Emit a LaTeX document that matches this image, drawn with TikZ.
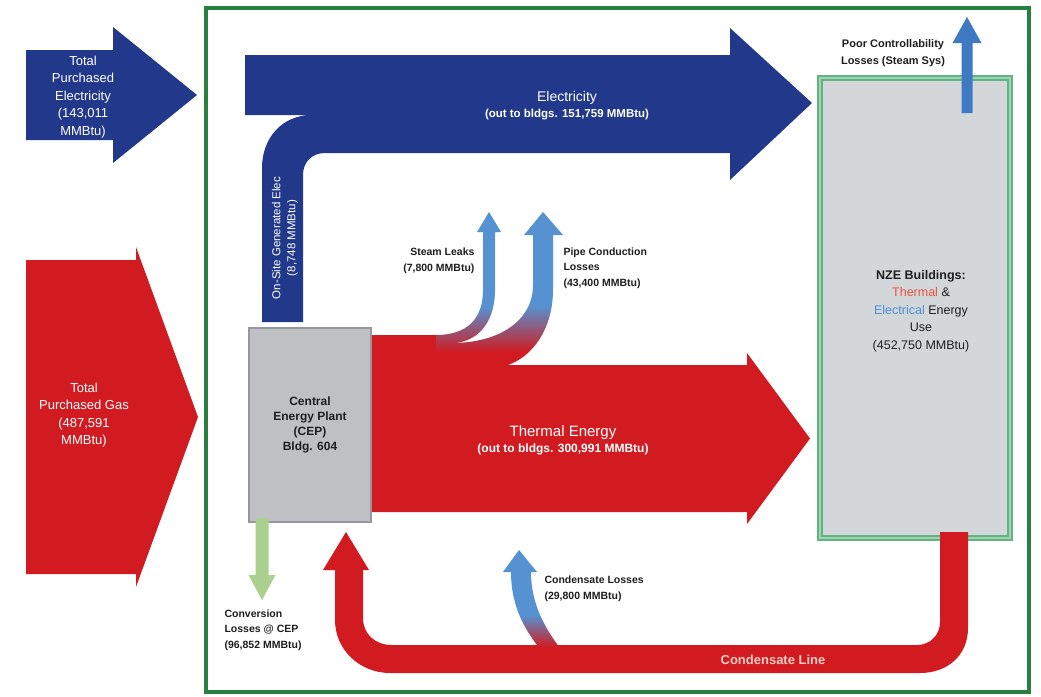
\documentclass[tikz,border=0pt]{standalone}
\usepackage{fontspec}
\setmainfont{Liberation Sans}
\usetikzlibrary{positioning}
\definecolor{elecblue}{RGB}{34, 56, 138}
\definecolor{thermred}{RGB}{209, 27, 32}
\definecolor{leakblue}{RGB}{86, 146, 210}
\definecolor{poorblue}{RGB}{62, 122, 196}
\definecolor{convgreen}{RGB}{170, 207, 143}
\definecolor{framegreen}{RGB}{40, 128, 62}
\definecolor{nzegreen}{RGB}{96, 180, 128}
\definecolor{nzefill}{RGB}{212, 215, 218}
\definecolor{cepfill}{RGB}{190, 192, 195}
\definecolor{cepdraw}{RGB}{150, 152, 155}
\definecolor{darktext}{RGB}{30, 30, 30}
\definecolor{condtext}{RGB}{250, 206, 196}
\definecolor{nzered}{RGB}{232, 84, 62}
\definecolor{nzeblue}{RGB}{74, 144, 214}
\pgfdeclareverticalshading{leakshade}{100bp}{color(0bp)=(thermred); color(25bp)=(thermred); color(30bp)=(thermred); color(45bp)=(leakblue); color(100bp)=(leakblue)}
\tikzset{
  flowlbl/.style={
    text=white, align=center,
    font=\fontsize{13}{17.5}\selectfont
  },
  losslbl/.style={
    text=darktext, align=left,
    font=\bfseries\fontsize{10.5}{15.5}\selectfont
  },
  boxlbl/.style={
    text=darktext, align=center,
    font=\fontsize{12.5}{17.5}\selectfont
  }
}
% fat horizontal arrow: x0, y centre, x head, x tip, body half, head half, colour
\newcommand{\drawfatarrow}[7]{
  \fill[#7] (#1,#2-#5) -- (#3,#2-#5) -- (#3,#2-#6) -- (#4,#2) -- (#3,#2+#6) -- (#3,#2+#5) -- (#1,#2+#5) -- cycle;
}
% straight vertical arrow: x, y tail, y head base, y tip, shaft half, head half, colour
\newcommand{\drawvarrow}[7]{
  \fill[#7] (#1-#5,#2) -- (#1-#5,#3) -- (#1-#6,#3) -- (#1,#4) -- (#1+#6,#3) -- (#1+#5,#3) -- (#1+#5,#2) -- cycle;
}

\begin{document}
\begin{tikzpicture}[x=1pt, y=-1pt]
\useasboundingbox (0,0) rectangle (1041,696);

% Outer frame
\draw[framegreen, line width=4pt] (205.5,8) rectangle (1029,692);

% Purchased inputs
\drawfatarrow{26}{95}{113}{197}{45}{68}{elecblue}
\drawfatarrow{26}{417}{136}{198}{157}{170}{thermred}
\node[flowlbl] (elec_in) at (83,97) {Total\\Purchased\\Electricity\\(143,011\\MMBtu)};
\node[flowlbl] (gas_in) at (84,415) {Total\\Purchased Gas\\(487,591\\MMBtu)};

% Electricity out to bldgs, with on-site stem
\fill[elecblue] (262,322) -- (262,168) .. controls (262,138) and (282,115) .. (312,115) -- (245,115) -- (245,55)
  -- (730,55) -- (730,28) -- (812,103) -- (730,180) -- (730,153) -- (325,153)
  .. controls (312,153) and (303,162) .. (303,175) -- (303,322) -- cycle;
\node[flowlbl, font=\fontsize{14}{17}\selectfont] (elec_out) at (567,106)
  {Electricity\\[-1pt]{\bfseries\fontsize{11.5}{14}\selectfont (out to bldgs. 151,759 MMBtu)}};
\node[flowlbl, rotate=90, font=\fontsize{11.5}{15}\selectfont] (onsite) at (285,238) {On-Site Generated Elec\\(8,748 MMBtu)};

% Thermal energy out to bldgs
\drawfatarrow{372}{438.5}{747}{810}{73.5}{85.5}{thermred}
\fill[thermred] (372,335) rectangle (446,367);
\node[flowlbl, font=\fontsize{15}{17}\selectfont] (therm_out) at (563,440)
  {Thermal Energy\\[-1pt]{\bfseries\fontsize{12}{14}\selectfont (out to bldgs. 300,991 MMBtu)}};

% Steam leaks and pipe conduction
\shade[shading=leakshade] (436,335) .. controls (468,335) and (483,318) .. (483,290) -- (483,232) -- (477,232) -- (489,212)
  -- (501,232) -- (495,232) -- (495,290) .. controls (495,325) and (475,343) .. (452,343)
  .. controls (500,343) and (533,320) .. (533,285) -- (533,235) -- (524,235) -- (543,212) -- (563,235) -- (553,235)
  -- (553,290) .. controls (553,335) and (525,368) .. (490,368) -- (436,368) -- cycle;
\node[losslbl, anchor=east, align=right] (steam) at (478,261) {Steam Leaks\\(7,800 MMBtu)};
\node[losslbl, anchor=west] (pipe) at (560,268) {Pipe Conduction\\Losses\\(43,400 MMBtu)};

% Central Energy Plant
\node[draw=cepdraw, line width=2pt, fill=cepfill, minimum width=122pt, minimum height=194pt] (cep) at (310,425) {};
\node[boxlbl, font=\bfseries\fontsize{12}{15}\selectfont] (cep_lbl) at (cep.center) {Central\\Energy Plant\\(CEP)\\Bldg. 604};

% NZE buildings
\node[draw=nzegreen, line width=2.2pt, double=nzegreen!60, double distance=1.2pt, fill=nzefill,
  minimum width=190pt, minimum height=460pt] (nze) at (915,308) {};
\node[boxlbl] (nze_lbl) at (921,311) {\textbf{NZE Buildings:}\\\textcolor{nzered}{Thermal} \&\\\textcolor{nzeblue}{Electrical} Energy\\Use\\(452,750 MMBtu)};

% Poor controllability
\drawvarrow{967}{113}{43}{17}{5.5}{14.5}{poorblue}
\node[losslbl, align=center, font=\bfseries\fontsize{11}{17}\selectfont] (poor) at (893,53) {Poor Controllability\\Losses (Steam Sys)};

% Conversion losses
\drawvarrow{262}{518}{575}{600}{6.5}{13.5}{convgreen}
\node[losslbl, anchor=west] (conv) at (221,630) {Conversion\\Losses @ CEP\\(96,852 MMBtu)};

% Condensate line back to CEP
\fill[thermred] (940,532) -- (968,532) -- (968,628) .. controls (968,655) and (948,673) .. (920,673)
  -- (390,673) .. controls (360,673) and (335,650) .. (335,620) -- (335,570) -- (323,570) -- (346,532)
  -- (369,570) -- (363,570) -- (363,618) .. controls (363,634) and (375,645) .. (392,645)
  -- (917,645) .. controls (930,645) and (940,635) .. (940,622) -- cycle;
\node[text=condtext, font=\bfseries\fontsize{13}{15}\selectfont] (cond_line) at (773,660) {Condensate Line};

% Condensate losses
\shade[shading=leakshade] (511,572) .. controls (511,610) and (528,636) .. (548,658) -- (568,658)
  .. controls (546,632) and (531,605) .. (531,572) -- (537,572) -- (519,550) -- (503,572) -- cycle;
\node[losslbl, anchor=west] (cond_loss) at (541,589) {Condensate Losses\\(29,800 MMBtu)};

\end{tikzpicture}
\end{document}
